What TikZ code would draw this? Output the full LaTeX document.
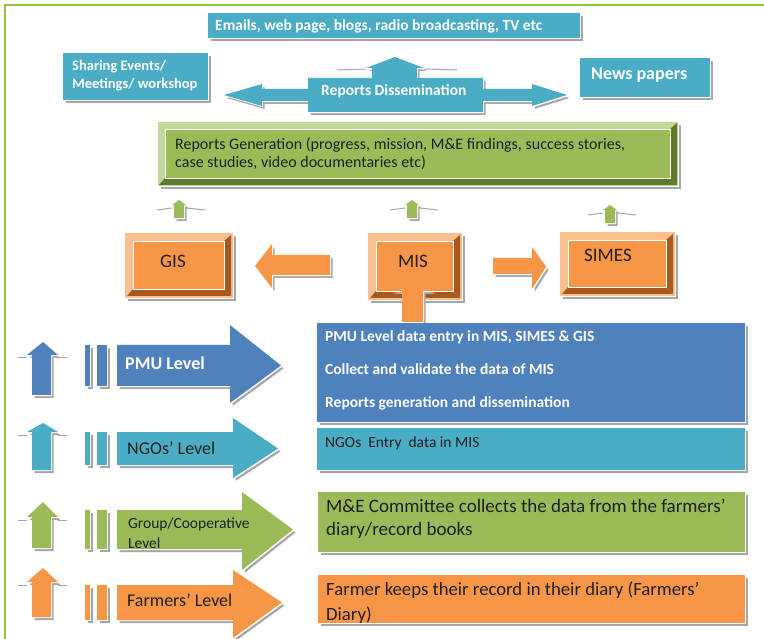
\documentclass[tikz,border=0pt]{standalone}
\usepackage{fontspec}
\setmainfont{Carlito}
\usetikzlibrary{shadows}

\definecolor{repaqua}{HTML}{4BACC6}
\definecolor{repblue}{HTML}{4F81BD}
\definecolor{repgreen}{HTML}{9BBB59}
\definecolor{reporange}{HTML}{F79646}
\definecolor{lightorange}{HTML}{FAC090}
\definecolor{darkorange}{HTML}{A85A1E}
\definecolor{lightgreen}{HTML}{C3D69B}
\definecolor{darkgreen}{HTML}{5E7A2C}
\definecolor{framegreen}{HTML}{8DC63F}
\definecolor{inktext}{HTML}{1E1E1E}

\tikzset{
  gshadow/.style={general shadow={fill=black!35,shadow xshift=2.5pt,shadow yshift=-3pt},
                  general shadow={fill=white,shadow xshift=1pt,shadow yshift=-1.2pt}},
  flatbox/.style={gshadow,anchor=north west,inner sep=0pt},
  whitetxt/.style={anchor=west,inner sep=0pt,text=white,font=\bfseries\fontsize{#1}{#1}\selectfont},
  darktxt/.style={anchor=west,inner sep=0pt,text=inktext,font=\fontsize{#1}{#1}\selectfont},
}

\begin{document}
\begin{tikzpicture}[x=1pt,y=-1pt]
  \fill[white] (0,0) rectangle (764,639);
  \useasboundingbox (0,0) rectangle (764,639);
  % outer frame
  \draw[framegreen,line width=2.5pt] (5,650) -- (5,5) -- (770,5);

  % media boxes on top
  \node[flatbox,fill=repaqua,minimum width=372pt,minimum height=25pt] (media) at (208,13) {};
  \node[whitetxt=15.5] (mediatxt) at (215,26) {Emails, web page, blogs, radio broadcasting, TV etc};
  \node[flatbox,fill=repaqua,minimum width=145pt,minimum height=47pt] (sharing) at (63,53) {};
  \node[whitetxt=14.5,align=left,font=\bfseries\fontsize{14.5}{18}\selectfont] (sharingtxt) at (72,76) {Sharing Events/\\Meetings/ workshop};
  \node[flatbox,fill=repaqua,minimum width=130pt,minimum height=39pt] (news) at (580,58) {};
  \node[whitetxt=18] (newstxt) at (591,75) {News papers};

  % dissemination arrow (left, up, right)
  \fill[repaqua,gshadow] (308,78) -- (372,78) -- (372,68) -- (366,68) -- (395,57) -- (424,68)
    -- (417,68) -- (417,78) -- (483,78) -- (483,89) -- (532,89) -- (532,84) -- (567,95)
    -- (532,106) -- (532,101) -- (483,101) -- (483,112) -- (308,112) -- (308,101)
    -- (262,101) -- (262,106) -- (224,95) -- (262,84) -- (262,89) -- (308,89) -- cycle;
  \draw[black!35,line width=1pt] (337,70) -- (366,69) (424,69) -- (457,70);
  \node[whitetxt=15.5] (dissemtxt) at (321,91) {Reports Dissemination};

  % reports generation panel
  \fill[lightgreen,gshadow] (158,122) rectangle (678,186);
  \fill[darkgreen] (677,123) -- (677,185) -- (670,178) -- (670,129) -- cycle;
  \fill[darkgreen] (159,185) -- (677,185) -- (670,178) -- (165,178) -- cycle;
  \node[anchor=north west,inner sep=0pt,fill=repgreen,draw=white,line width=0.6pt,
    minimum width=505pt,minimum height=49pt] (gen) at (165,129) {};
  \node[darktxt=16,align=left,font=\fontsize{16}{18.5}\selectfont] (gentxt) at (175,154)
    {Reports Generation (progress, mission, M\&E findings, success stories,\\case studies, video documentaries etc)};

  % small green arrows up to the panel
  \foreach \cx/\ty in {179/200, 412/200, 610/205} {
    \fill[repgreen,gshadow] (\cx-5,\ty+18) -- (\cx-5,\ty+5) -- (\cx-7,\ty+5) -- (\cx,\ty)
      -- (\cx+7,\ty+5) -- (\cx+5,\ty+5) -- (\cx+5,\ty+18) -- cycle;
    \draw[black!35,line width=1pt] (\cx-22,\ty+10) -- (\cx-7,\ty+8) (\cx+7,\ty+8) -- (\cx+26,\ty+10);
  }

  % GIS, MIS and SIMES boxes
  \foreach \nm/\xa/\ya/\xb/\yb/\lx/\ly/\lab in {gis/125/233/233/298/173/261/GIS,
      mis/368/233/462/300/413/261/MIS, simes/560/232/675/296/608/255/SIMES} {
    \fill[lightorange,gshadow] (\xa,\ya) rectangle (\xb,\yb);
    \fill[darkorange] (\xb-2,\ya+2) -- (\xb-2,\yb-2) -- (\xb-9,\yb-9) -- (\xb-9,\ya+8) -- cycle;
    \fill[darkorange] (\xa+2,\yb-2) -- (\xb-2,\yb-2) -- (\xb-9,\yb-9) -- (\xa+8,\yb-9) -- cycle;
    \filldraw[fill=reporange,draw=white,line width=0.8pt] (\xa+8,\ya+8) rectangle (\xb-9,\yb-9);
    \node[text=inktext,font=\fontsize{19}{19}\selectfont,inner sep=0pt] (\nm) at (\lx,\ly) {\lab};
  }
  % orange arrows between them
  \fill[reporange,gshadow] (330,255) -- (272,255) -- (272,244) -- (255,266) -- (272,288)
    -- (272,275) -- (330,275) -- cycle;
  \fill[reporange,gshadow] (493,258) -- (532,258) -- (532,247) -- (546,267) -- (532,289)
    -- (532,274) -- (493,274) -- cycle;
  \fill[reporange,gshadow] (402,322) -- (402,291) -- (391,291) -- (412,282) -- (433,291)
    -- (423,291) -- (423,322) -- cycle;

  % level up arrows
  \foreach \ut/\uh/\ub/\col in {342/355/395/repblue, 423/432/470/repaqua,
      502/517/548/repgreen, 568/582/617/reporange} {
    \fill[\col,gshadow] (32,\ub) -- (32,\uh) -- (27,\uh) -- (43,\ut) -- (58,\uh) -- (51,\uh)
      -- (51,\ub) -- cycle;
    \draw[black!35,line width=1pt] (18,\uh+3) -- (27,\uh+3) (58,\uh+3) -- (67,\uh+3);
  }
  % level bars and big arrows
  \foreach \st/\sb/\ht/\hb/\hx/\tx/\col in {345/386/325/403/230/281/repblue,
      432/465/418/478/233/278/repaqua, 510/549/492/570/242/293/repgreen,
      585/620/570/638/233/282/reporange} {
    \fill[\col,gshadow] (85,\st) rectangle (90,\sb);
    \fill[\col,gshadow] (97,\st) rectangle (107,\sb);
    \fill[\col,gshadow] (117,\st) -- (\hx,\st) -- (\hx,\ht) -- (\tx,{(\st+\sb)/2}) -- (\hx,\hb)
      -- (\hx,\sb) -- (117,\sb) -- cycle;
  }
  \node[whitetxt=18] (pmutxt) at (125,363) {PMU Level};
  \node[darktxt=18] (ngotxt) at (127,448) {NGOs' Level};
  \node[darktxt=15.5,align=left,font=\fontsize{15.5}{20}\selectfont] (grouptxt) at (128,533) {Group/Cooperative\\Level};
  \node[darktxt=18] (farmtxt) at (127,600) {Farmers' Level};

  % level boxes on the right
  \node[flatbox,fill=repblue,minimum width=428pt,minimum height=99pt] (pmubox) at (317,323) {};
  \node[whitetxt=15.5,align=left,font=\bfseries\fontsize{15.5}{33}\selectfont] (pmuboxtxt) at (325,370)
    {PMU Level data entry in MIS, SIMES \& GIS\\Collect and validate the data of MIS\\Reports generation and dissemination};
  \node[flatbox,fill=repaqua,minimum width=428pt,minimum height=42pt] (ngobox) at (317,428) {};
  \node[darktxt=15.5] (ngoboxtxt) at (325,443) {NGOs\ \ Entry\ \ data in MIS};
  \node[flatbox,fill=repgreen,minimum width=427pt,minimum height=60pt] (groupbox) at (318,492) {};
  \node[darktxt=19,align=left,font=\fontsize{19}{23}\selectfont] (groupboxtxt) at (326,518.5)
    {M\&E Committee collects the data from the farmers'\\diary/record books};
  \node[flatbox,fill=reporange,minimum width=427pt,minimum height=48pt] (farmbox) at (318,575) {};
  \node[darktxt=18.7,align=left,font=\fontsize{18.7}{25}\selectfont] (farmboxtxt) at (326,602.5)
    {Farmer keeps their record in their diary (Farmers'\\Diary)};
\end{tikzpicture}
\end{document}
